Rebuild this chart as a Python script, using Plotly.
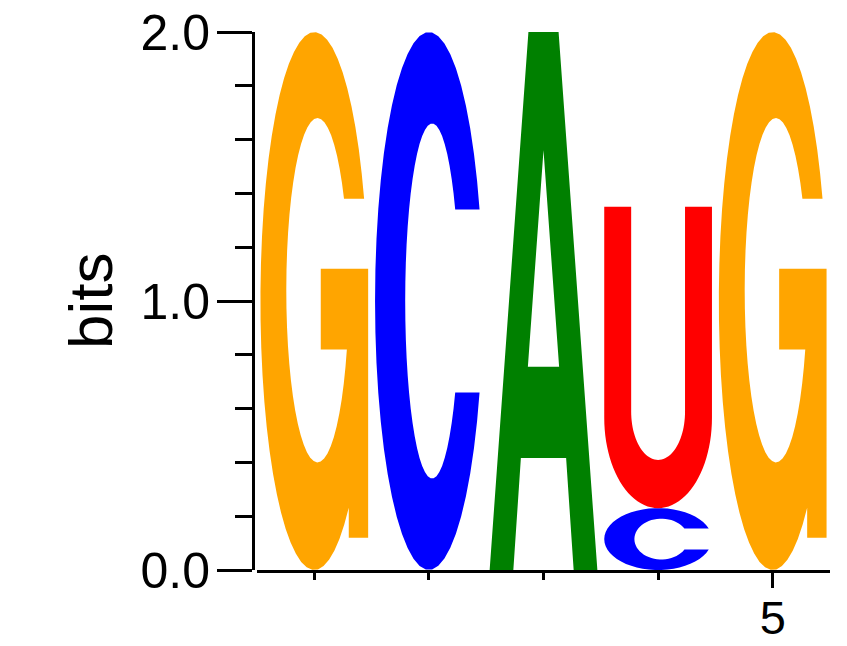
import math
import plotly.graph_objects as go

positions = [1, 2, 3, 4, 4, 5]          # column of each letter (bottom-to-top order within a column)
letters   = ["G", "C", "A", "C", "U", "G"]
bits      = [2.0, 2.0, 2.0, 0.23, 1.12, 2.0]

y_tickvals = [0, 1, 2]
y_ticktext = ["0.0", "1.0", "2.0"]
y_minor    = [0.2, 0.4, 0.6, 0.8, 1.2, 1.4, 1.6, 1.8]
x_tickvals = [5]
x_ticktext = ["5"]
x_minor    = [1, 2, 3, 4]

colors = {"G": "#FFA500", "C": "#0000FF", "A": "#008000", "U": "#FF0000"}
LETTER_W = 0.94


# ---- glyph outlines in a unit box ----
def arc(cx, cy, rx, ry, a0, a1, n=48):
    pts = []
    for i in range(n + 1):
        a = math.radians(a0 + (a1 - a0) * i / n)
        pts.append((cx + rx * math.cos(a), cy + ry * math.sin(a)))
    return pts


def glyph(ch):
    if ch == "G":
        yt = 0.69
        a_o0 = math.degrees(math.asin((yt - 0.5) / 0.5))
        a_o1 = 360 - math.degrees(math.acos((0.82 - 0.5) / 0.5))
        icx, icy, irx, iry = 0.53, 0.52, 0.29, 0.32
        a_i0 = math.degrees(math.asin((0.41 - icy) / iry))
        a_i1 = math.degrees(math.asin((yt - icy) / iry)) - 360
        pts = arc(0.5, 0.5, 0.5, 0.5, a_o0, a_o1)
        pts += [(0.82, 0.06), (1.0, 0.06), (1.0, 0.56), (0.56, 0.56), (0.56, 0.41), (0.82, 0.41)]
        pts += arc(icx, icy, irx, iry, a_i0, a_i1)
        return [pts]
    if ch == "C":
        yt = 0.67
        a_o = math.degrees(math.asin((yt - 0.5) / 0.5))
        icx, icy, irx, iry = 0.53, 0.5, 0.25, 0.33
        a_i = math.degrees(math.asin((yt - icy) / iry))
        pts = arc(0.5, 0.5, 0.5, 0.5, a_o, 360 - a_o)
        pts += arc(icx, icy, irx, iry, 360 - a_i, a_i)
        return [pts]
    if ch == "A":
        outer = [(0, 0), (0.36, 1), (0.64, 1), (1, 0), (0.78, 0), (0.71, 0.208),
                 (0.29, 0.208), (0.22, 0)]
        hole = [(0.355, 0.378), (0.645, 0.378), (0.5, 0.78)]
        return [outer, hole]
    if ch == "U":
        pts = [(0, 1), (0, 0.3)]
        pts += arc(0.5, 0.3, 0.5, 0.3, 180, 360)
        pts += [(1, 0.3), (1, 1), (0.75, 1), (0.75, 0.32)]
        pts += arc(0.5, 0.32, 0.25, 0.16, 0, -180)
        pts += [(0.25, 0.32), (0.25, 1)]
        return [pts]
    return []


def letter_path(ch, xc, y0, h):
    parts = []
    for sub in glyph(ch):
        seg = []
        for i, (u, v) in enumerate(sub):
            x = xc - LETTER_W / 2 + u * LETTER_W
            y = y0 + v * h
            seg.append(("M" if i == 0 else "L") + f"{x:.5f},{y:.5f}")
        parts.append(" ".join(seg) + " Z")
    return " ".join(parts)


shapes = []
stack = {}
for p, ch, b in zip(positions, letters, bits):
    y0 = stack.get(p, 0.0)
    shapes.append(dict(type="path", xref="x", yref="y", path=letter_path(ch, p, y0, b),
                       fillcolor=colors[ch], line=dict(width=0), fillrule="evenodd",
                       layer="above"))
    stack[p] = y0 + b

fig = go.Figure()
fig.add_trace(go.Scatter(x=positions, y=[0] * len(positions), mode="markers",
                         marker=dict(opacity=0), hoverinfo="skip", showlegend=False))

W, H = 847, 646
ml, mr, mt, mb = 245, 25, 24, 84
pw = W - ml - mr
FONT = "Liberation Sans, Arial, sans-serif"

fig.update_layout(
    width=W, height=H, margin=dict(l=ml, r=mr, t=mt, b=mb),
    paper_bgcolor="white", plot_bgcolor="white",
    shapes=shapes, showlegend=False,
    xaxis=dict(domain=[4 / pw, 1], range=[0.5, 5.5], showgrid=False, zeroline=False,
               automargin=False, ticklabeloverflow="allow",
               showline=True, linecolor="black", linewidth=3,
               tickmode="array", tickvals=x_tickvals, ticktext=x_ticktext,
               ticks="outside", ticklen=15, tickwidth=2.5, tickcolor="black",
               ticklabelstandoff=-10,
               tickfont=dict(family=FONT, size=47, color="black"),
               minor=dict(tickmode="array", tickvals=x_minor, ticks="outside",
                          ticklen=7, tickwidth=2.5, tickcolor="black", showgrid=False)),
    yaxis=dict(anchor="free", position=0, range=[0, 2], showgrid=False, zeroline=False,
               automargin=False, ticklabeloverflow="allow",
               showline=True, linecolor="black", linewidth=3,
               tickmode="array", tickvals=y_tickvals, ticktext=y_ticktext,
               ticks="outside", ticklen=35, tickwidth=2.5, tickcolor="black",
               ticklabelstandoff=-3,
               tickfont=dict(family=FONT, size=50, color="black"),
               minor=dict(tickmode="array", tickvals=y_minor, ticks="outside",
                          ticklen=17, tickwidth=2.5, tickcolor="black", showgrid=False)),
    annotations=[dict(text="bits", xref="paper", yref="paper", x=(90 - 8 - ml) / pw, y=0.5,
                      textangle=-90, showarrow=False, xanchor="center", yanchor="middle",
                      font=dict(family=FONT, size=62, color="black"))],
)

fig.write_html("out.html")
